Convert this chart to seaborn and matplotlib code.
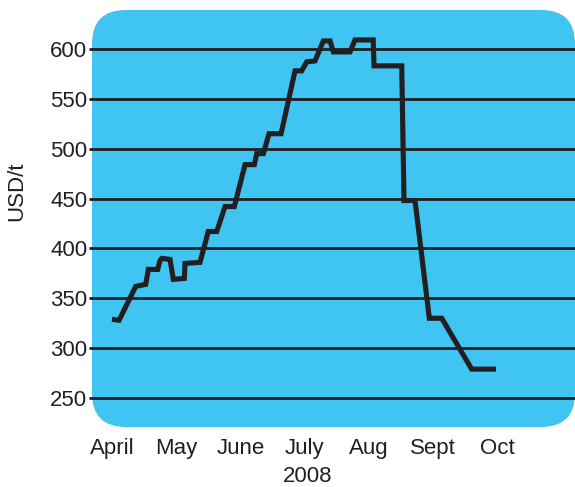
import matplotlib
matplotlib.use("Agg")
import matplotlib.pyplot as plt
from matplotlib.patches import FancyBboxPatch
import seaborn as sns

sns.set_theme(style="white")
plt.rcParams["font.family"] = ["Liberation Sans", "DejaVu Sans"]

INK = "#231f20"
BLUE = "#40c5f3"

# x in months after the start of April 2008, y in USD/t
months = ["April", "May", "June", "July", "Aug", "Sept", "Oct"]
yticks = [250, 300, 350, 400, 450, 500, 550, 600]
x = [0.0, 0.11, 0.37, 0.525, 0.566, 0.712, 0.748, 0.775, 0.904, 0.955,
     1.127, 1.138, 1.371, 1.50, 1.632, 1.761, 1.906, 2.073, 2.218, 2.255,
     2.358, 2.447, 2.634, 2.852, 2.956, 3.034, 3.164, 3.293, 3.398, 3.449,
     3.709, 3.787, 4.07, 4.083, 4.515, 4.55, 4.722, 4.945, 5.138, 5.605,
     5.984]
price = [329, 328, 362, 364, 379, 379, 388, 390, 389, 369,
         370, 385, 386, 417, 417, 442, 442, 484, 484, 495,
         495, 515, 515, 578, 578, 587, 588, 608, 608, 597,
         597, 609, 609, 583, 583, 448, 448, 330, 330, 279,
         279]

fig = plt.figure(figsize=(5.75, 4.87), dpi=100)
ax = fig.add_axes([92 / 575, 60 / 487, 483 / 575, 417 / 487])
ax.set_facecolor("none")

# rounded blue panel
bg = FancyBboxPatch((0, 0), 1, 1, boxstyle="round,pad=0,rounding_size=0.07",
                    mutation_aspect=483 / 417, transform=ax.transAxes,
                    facecolor=BLUE, edgecolor="none", zorder=0, clip_on=False)
ax.add_patch(bg)

sns.lineplot(x=x, y=price, ax=ax, sort=False, estimator=None, color=INK,
             linewidth=3.7, solid_joinstyle="miter", solid_capstyle="butt",
             zorder=3)

ax.set_xlim(-0.312, 7.215)
ax.set_ylim(221, 639)
ax.set_yticks(yticks)
ax.set_xticks(range(len(months)))
ax.set_xticklabels(months)
ax.yaxis.grid(True, color=INK, linewidth=2.0)
ax.xaxis.grid(False)
ax.set_axisbelow(True)
for s in ax.spines.values():
    s.set_visible(False)

ax.tick_params(axis="y", length=2.5, width=2, color=INK, pad=1,
               labelsize=16, labelcolor=INK, left=True)
ax.tick_params(axis="x", length=0, pad=8, labelsize=16, labelcolor=INK)

ax.set_ylabel("USD/t", fontsize=16, color=INK)
ax.yaxis.label.set_verticalalignment("center")
ax.yaxis.set_label_coords(-0.155, 0.566)
ax.set_xlabel("2008", fontsize=16, color=INK)
ax.xaxis.label.set_verticalalignment("center")
ax.xaxis.set_label_coords(0.447, -0.118)

fig.savefig("out.png", dpi=100)
